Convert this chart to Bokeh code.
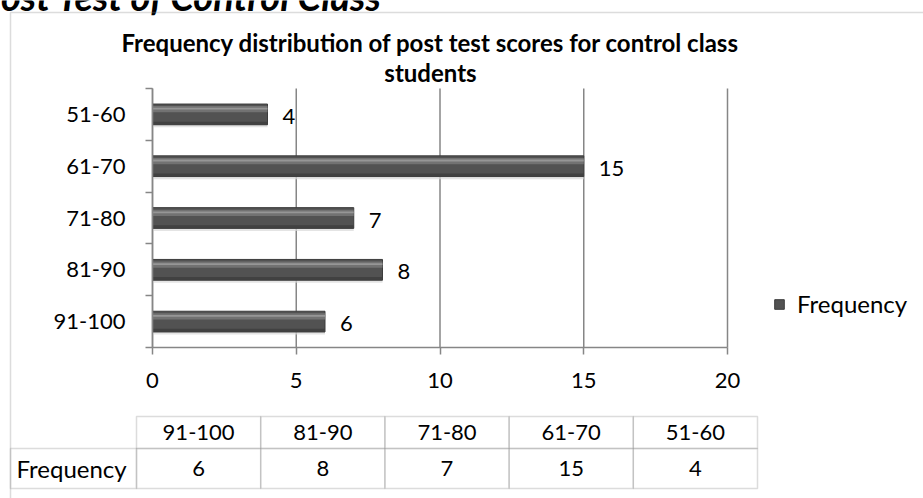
from bokeh.plotting import figure
from bokeh.models import (Range1d, FixedTicker, Label, LabelSet, BoxAnnotation,
                          ColumnDataSource, Legend, LegendItem)
from bokeh.core.properties import value
from bokeh.embed import file_html
from bokeh.resources import INLINE

# ---------------- data ----------------
page_heading = "Post Test of Control Class"
title_text = "Frequency distribution of post test scores for control class\nstudents"
categories = ["91-100", "81-90", "71-80", "61-70", "51-60"]
frequency = [6, 8, 7, 15, 4]
x_ticks = [0, 5, 10, 15, 20]
series_name = "Frequency"

# ---------------- layout (pixel coords of the picture) ----------------
W, H = 923, 498
FL, FR, FT, FB = 152, 727, 88, 347      # plot area
FONT = "Lato"
FS = "22px"        # numbers / ranges
FSW = "24px"       # words
GRAY = "#868686"
n = len(categories)

kx = (FR - FL) / (x_ticks[-1] - x_ticks[0])
ky = (FB - FT) / n
x_range = Range1d(x_ticks[0] - FL / kx, x_ticks[0] + (W - FL) / kx)
y_range = Range1d(-(H - FB) / ky, FB / ky)


def sx(rx):
    return rx


def sy(ry):
    return H - ry


p = figure(width=W, height=H, output_backend="svg", toolbar_location=None,
           x_range=x_range, y_range=y_range, title=None, min_border=0)
p.outline_line_color = None
p.background_fill_color = "white"
p.border_fill_color = "white"
p.xgrid.grid_line_color = None
p.ygrid.grid_line_color = None

# page heading (cut off at the top and left, as in the source)
p.add_layout(Label(x=sx(382), y=sy(-28), x_units="screen", y_units="screen",
                   text=page_heading, text_align="right", text_baseline="top",
                   text_font=FONT, text_font_size="38px", text_font_style="bold italic",
                   text_color="black"))

# outer chart border
p.add_layout(BoxAnnotation(left=sx(10), right=sx(960), top=sy(12), bottom=sy(540),
                           left_units="screen", right_units="screen",
                           top_units="screen", bottom_units="screen",
                           fill_alpha=0, line_color="#8a8a8a", line_width=1.5))

# title
p.add_layout(Label(x=sx(430), y=sy(27), x_units="screen", y_units="screen",
                   text=title_text, text_align="center", text_baseline="top",
                   text_font=FONT, text_font_size="24px", text_font_style="bold",
                   text_line_height=1.05, text_color="black"))

# vertical grid lines limited to the plot area
p.segment(x0=x_ticks, y0=[0] * len(x_ticks), x1=x_ticks, y1=[n] * len(x_ticks),
          line_color=GRAY, line_width=1.5)

# axes drawn at fixed data locations
xa = p.xaxis[0]
xa.fixed_location = 0
xa.bounds = (x_ticks[0], x_ticks[-1])
xa.ticker = FixedTicker(ticks=x_ticks)
xa.axis_line_color = GRAY
xa.axis_line_width = 1.5
xa.major_tick_line_color = GRAY
xa.major_tick_line_width = 1.5
xa.major_tick_in = 0
xa.major_tick_out = 7
xa.minor_tick_line_color = None
xa.major_label_text_font = FONT
xa.major_label_text_font_size = FS
xa.major_label_text_color = "black"
xa.major_label_standoff = 18

ya = p.yaxis[0]
centers = [i + 0.5 for i in range(n)]
ya.fixed_location = x_ticks[0]
ya.bounds = (0, n)
ya.ticker = FixedTicker(ticks=centers, minor_ticks=list(range(n + 1)))
ya.major_label_overrides = {c: lab for c, lab in zip(centers, categories)}
ya.axis_line_color = GRAY
ya.axis_line_width = 1.5
ya.major_tick_line_color = None
ya.major_tick_in = 0
ya.major_tick_out = 0
ya.minor_tick_line_color = GRAY
ya.minor_tick_line_width = 1.5
ya.minor_tick_in = 0
ya.minor_tick_out = 7
ya.major_label_text_font = FONT
ya.major_label_text_font_size = FS
ya.major_label_text_color = "black"
ya.major_label_standoff = 20

# bars (bevelled look with layers)
src = ColumnDataSource(dict(
    y=centers,
    right=frequency,
    label=[str(v) for v in frequency],
    shadow=[c - 0.05 for c in centers],
    hi=[c + 0.1 for c in centers],
    hi2=[c + 0.11 for c in centers],
    lo=[c - 0.17 for c in centers],
))
p.hbar(y="shadow", left=0, right="right", height=0.4, source=src,
       fill_color="#d9d9d9", fill_alpha=0.7, line_color=None)
body = p.hbar(y="y", left=0, right="right", height=0.4, source=src,
              fill_color="#525252", line_color="#3c3c3c", line_width=1)
p.hbar(y="hi", left=0, right="right", height=0.12, source=src,
       fill_color="#767676", fill_alpha=0.9, line_color=None)
p.hbar(y="hi2", left=0, right="right", height=0.035, source=src,
       fill_color="#9a9a9a", fill_alpha=0.9, line_color=None)
p.hbar(y="lo", left=0, right="right", height=0.06, source=src,
       fill_color="#3f3f3f", fill_alpha=0.9, line_color=None)

# data labels
p.text(x="right", y="y", text="label", source=src, x_offset=15, y_offset=2,
       text_baseline="middle", text_align="left", text_font=value(FONT),
       text_font_size=FS, text_color="black")

# legend
legend = Legend(items=[LegendItem(label=series_name, renderers=[body])],
                location=(sx(773), sy(318)), orientation="vertical",
                glyph_width=12, glyph_height=12, label_standoff=12,
                label_height=28, padding=0, margin=0, spacing=0,
                border_line_color=None, background_fill_alpha=0,
                label_text_font=FONT, label_text_font_size=FSW,
                label_text_color="black")
p.add_layout(legend)

# data table
TL, TR = 136, 757
HT, HB, RB = 416, 448, 488
cw = (TR - TL) / n
for i in range(n):
    x0 = TL + i * cw
    for (t, b) in ((HT, HB), (HB, RB)):
        p.add_layout(BoxAnnotation(left=sx(x0), right=sx(x0 + cw), top=sy(t), bottom=sy(b),
                                   left_units="screen", right_units="screen",
                                   top_units="screen", bottom_units="screen",
                                   fill_alpha=0, line_color="#8c8c8c", line_width=1.5))
p.add_layout(BoxAnnotation(left=sx(10), right=sx(TL), top=sy(HB), bottom=sy(RB),
                           left_units="screen", right_units="screen",
                           top_units="screen", bottom_units="screen",
                           fill_alpha=0, line_color="#8c8c8c", line_width=1.5))

tsrc = ColumnDataSource(dict(
    x=[sx(TL + (i + 0.5) * cw) for i in range(n)],
    yh=[sy((HT + HB) / 2)] * n,
    yv=[sy((HB + RB) / 2)] * n,
    cat=categories,
    val=[str(v) for v in frequency],
))
p.add_layout(LabelSet(x="x", y="yh", text="cat", source=tsrc, x_units="screen", y_units="screen",
                      text_align="center", text_baseline="middle", text_font=value(FONT),
                      text_font_size=value(FS), text_color="black"))
p.add_layout(LabelSet(x="x", y="yv", text="val", source=tsrc, x_units="screen", y_units="screen",
                      text_align="center", text_baseline="middle", text_font=value(FONT),
                      text_font_size=value(FS), text_color="black"))
p.add_layout(Label(x=sx(16), y=sy((HB + RB) / 2), x_units="screen", y_units="screen",
                   text=series_name, text_align="left", text_baseline="middle",
                   text_font=FONT, text_font_size=FSW, text_color="black"))

open("out.html", "w").write(file_html(p, INLINE))
